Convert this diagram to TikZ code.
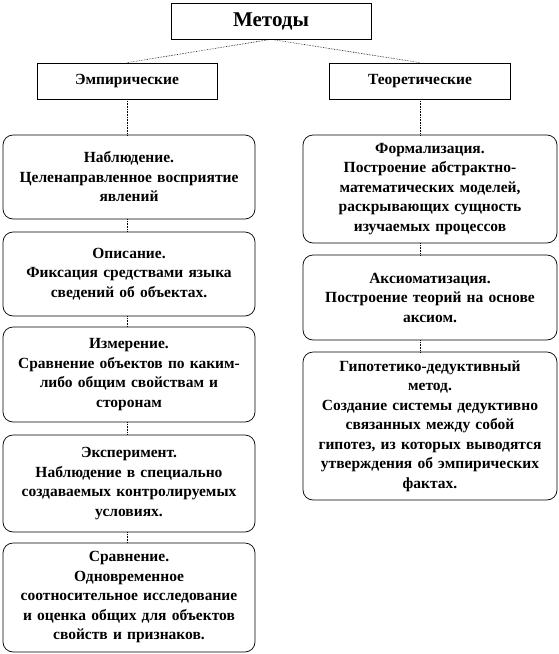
\documentclass[tikz,border=0pt]{standalone}
\usepackage{fontspec}
\setmainfont{Liberation Serif}

\tikzset{
  headbox/.style={draw, line width=0.7pt, minimum height=36pt, inner sep=0pt,
    font=\bfseries\fontsize{15.5}{19.5}\selectfont},
  itembox/.style={draw, line width=0.7pt, rounded corners=10pt, align=center,
    text width=252pt, inner sep=0pt, font=\bfseries\fontsize{15.5}{19.5}\selectfont},
  link/.style={densely dotted, line width=0.6pt}
}

\begin{document}
\begin{tikzpicture}[x=1pt,y=-1pt]
            \useasboundingbox (0,0) rectangle (558,654);

            \node[headbox, minimum width=200pt, font=\bfseries\fontsize{21}{24}\selectfont] (met) at (271,21) {Методы};
            \node[headbox, minimum width=180pt] (emp) at (127,81) {Эмпирические};
            \node[headbox, minimum width=181pt] (teo) at (420,81) {Теоретические};

            % empirical methods
            \node[itembox, minimum height=84pt] (nab) at (129,177)
                {Наблюдение.\\Целенаправленное восприятие\\явлений};
            \node[itembox, minimum height=84pt] (opi) at (129,274)
                {Описание.\\Фиксация средствами языка\\сведений об объектах.};
            \node[itembox, minimum height=95pt] (izm) at (129,374.5)
                {Измерение.\\Сравнение объектов по каким-\\либо общим свойствам и\\сторонам};
            \node[itembox, minimum height=97pt] (eks) at (129,483.5)
                {Эксперимент.\\Наблюдение в специально\\создаваемых контролируемых\\условиях.};
            \node[itembox, minimum height=109pt] (srv) at (129,597.5)
                {Сравнение.\\Одновременное\\соотносительное исследование\\и оценка общих для объектов\\свойств и признаков.};

            % theoretical methods
            \node[itembox, text width=254pt, minimum height=108pt] (frm) at (430,189)
                {Формализация.\\Построение абстрактно-\\математических моделей,\\раскрывающих сущность\\изучаемых процессов};
            \node[itembox, text width=254pt, minimum height=85pt] (aks) at (430,297.5)
                {Аксиоматизация.\\Построение теорий на основе\\аксиом.};
            \node[itembox, text width=254pt, minimum height=148pt] (gip) at (430,426)
                {Гипотетико-дедуктивный\\метод.\\Создание системы дедуктивно\\связанных между собой\\гипотез, из которых выводятся\\утверждения об эмпирических\\фактах.};

            \draw[link] (met.south) -- (emp.north);
            \draw[link] (met.south) -- (teo.north);
            \draw[link] (emp.south) -- (emp.south |- nab.north);
            \draw[link] (nab.south -| emp.south) -- (opi.north -| emp.south);
            \draw[link] (opi.south -| emp.south) -- (izm.north -| emp.south);
            \draw[link] (izm.south -| emp.south) -- (eks.north -| emp.south);
            \draw[link] (eks.south -| emp.south) -- (srv.north -| emp.south);
            \draw[link] (teo.south) -- (teo.south |- frm.north);
            \draw[link] (frm.south -| teo.south) -- (aks.north -| teo.south);
            \draw[link] (aks.south -| teo.south) -- (gip.north -| teo.south);
        \end{tikzpicture}
\end{document}
